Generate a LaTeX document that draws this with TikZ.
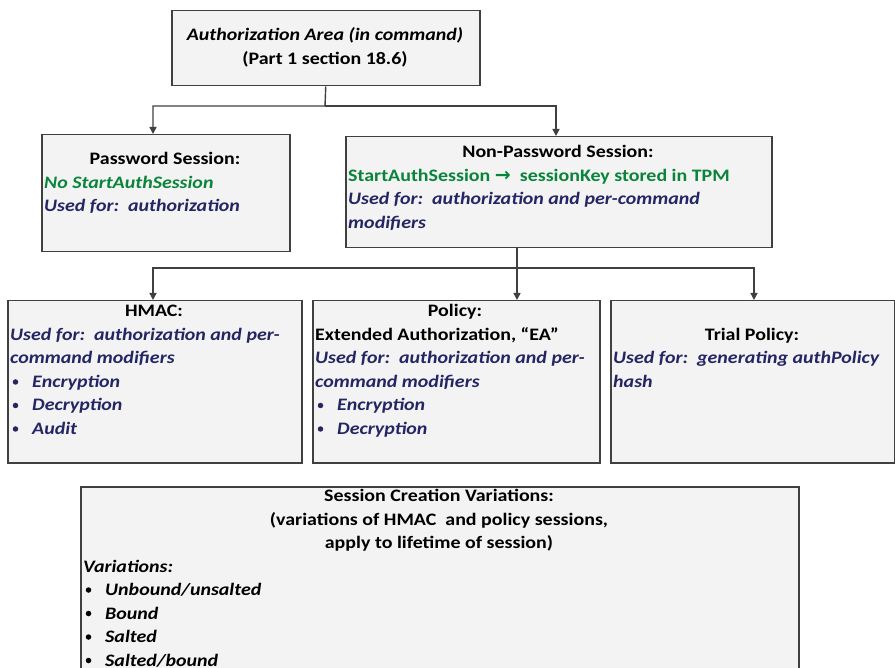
\documentclass[tikz,border=0pt]{standalone}
\usepackage{fontspec}
\setmainfont{Carlito}[FakeStretch=1.14]
\newfontfamily\arrowfont{DejaVu Sans}
\usetikzlibrary{arrows.meta}
\definecolor{boxfill}{RGB}{243,243,243}
\definecolor{boxline}{RGB}{64,64,64}
\definecolor{tgreen}{RGB}{10,132,58}
\definecolor{tnavy}{RGB}{36,38,100}
\begin{document}
\begin{tikzpicture}[x=1pt,y=-1pt,
  box/.style={draw=boxline, line width=1.5pt, fill=boxfill, inner sep=0pt, anchor=north west},
  conn/.style={draw=boxline, line width=1.4pt},
  arr/.style={conn, -{Triangle[length=7pt,width=7pt]}},
  txt/.style={inner sep=0pt, font=\fontsize{17.5}{21}\selectfont\bfseries},
  lt/.style={txt, anchor=base west},
  ct/.style={txt, anchor=base},
  nv/.style={text=tnavy, font=\fontsize{17.5}{21}\selectfont\bfseries\itshape},
  gr/.style={text=tgreen},
  bk/.style={text=black, font=\fontsize{17.5}{21}\selectfont\bfseries\itshape},
  dot/.style={circle, inner sep=0pt, minimum size=5.5pt}]
\useasboundingbox (0,0) rectangle (895,668);

% boxes
\node[box, minimum width=308pt, minimum height=75pt] (top) at (171,10) {};
\node[box, minimum width=248pt, minimum height=117pt] (pw) at (41,134) {};
\node[box, minimum width=426pt, minimum height=111pt] (np) at (345,136) {};
\node[box, minimum width=294pt, minimum height=162pt] (hm) at (7,300) {};
\node[box, minimum width=287pt, minimum height=162pt] (po) at (312,300) {};
\node[box, minimum width=284pt, minimum height=162pt] (tr) at (610,300) {};
\node[box, minimum width=718pt, minimum height=200pt] (sc) at (80,486) {};

% connectors
\coordinate (j1) at (325,106);
\coordinate (pwin) at (153,134);
\coordinate (npin) at (556,136);
\draw[arr] (top.south) -- (j1) -| (pwin);
\draw[arr] (j1) -| (npin);
\coordinate (npout) at (517,247);
\coordinate (j2) at (517,268);
\coordinate (hin) at (153,300);
\coordinate (pin) at (517,300);
\coordinate (tin) at (754,300);
\draw[conn] (npout) -- (j2);
\draw[arr] (j2) -| (hin);
\draw[arr] (j2) -- (pin);
\draw[arr] (j2) -| (tin);

% top box text
\node[ct, font=\fontsize{17.5}{21}\selectfont\bfseries\itshape] (t1) at (325,41) {Authorization Area (in command)};
\node[ct] (t2) at (325,65) {(Part 1 section 18.6)};

% password
\node[ct] (p1) at (165,165) {Password Session:};
\node[lt, gr, font=\fontsize{17.5}{21}\selectfont\bfseries\itshape] (p2) at (44,188.5) {No StartAuthSession};
\node[lt, nv] (p3) at (44,212) {Used for:\ \ authorization};

% non-password
\node[ct] (n1) at (558,158) {Non-Password Session:};
\node[lt, gr] (n2) at (348,181.5) {StartAuthSession {\arrowfont\fontsize{19}{19}\selectfont\bfseries →}\ \ sessionKey stored in TPM};
\node[lt, nv] (n3) at (348,205) {Used for:\ \ authorization and per-command};
\node[lt, nv] (n4) at (348,228.5) {modifiers};

% HMAC
\node[ct] (h1) at (154,317) {HMAC:};
\node[lt, nv] (h2) at (10,340.5) {Used for:\ \ authorization and per-};
\node[lt, nv] (h3) at (10,364) {command modifiers};
\node[dot, fill=tnavy] (hb1) at (15.5,382) {};
\node[lt, nv] (h4) at (32,387.5) {Encryption};
\node[dot, fill=tnavy] (hb2) at (15.5,405.5) {};
\node[lt, nv] (h5) at (32,411) {Decryption};
\node[dot, fill=tnavy] (hb3) at (15.5,429) {};
\node[lt, nv] (h6) at (32,434.5) {Audit};

% Policy
\node[ct] (o1) at (455,317) {Policy:};
\node[lt] (o2) at (315,340.5) {Extended Authorization, “EA”};
\node[lt, nv] (o3) at (315,364) {Used for:\ \ authorization and per-};
\node[lt, nv] (o4) at (315,387.5) {command modifiers};
\node[dot, fill=tnavy] (ob1) at (320.5,405.5) {};
\node[lt, nv] (o5) at (337,411) {Encryption};
\node[dot, fill=tnavy] (ob2) at (320.5,429) {};
\node[lt, nv] (o6) at (337,434.5) {Decryption};

% Trial
\node[ct] (r1) at (752,340.5) {Trial Policy:};
\node[lt, nv] (r2) at (613,364) {Used for:\ \ generating authPolicy};
\node[lt, nv] (r3) at (613,387.5) {hash};

% Session creation
\node[ct] (s1) at (439,501.5) {Session Creation Variations:};
\node[ct] (s2) at (439,525) {(variations of HMAC\ \ and policy sessions,};
\node[ct] (s3) at (439,548.5) {apply to lifetime of session)};
\node[lt, bk] (s4) at (83,572) {Variations:};
\node[dot, fill=black] (sb1) at (88.5,590) {};
\node[lt, bk] (s5) at (105,595.5) {Unbound/unsalted};
\node[dot, fill=black] (sb2) at (88.5,613.5) {};
\node[lt, bk] (s6) at (105,619) {Bound};
\node[dot, fill=black] (sb3) at (88.5,637) {};
\node[lt, bk] (s7) at (105,642.5) {Salted};
\node[dot, fill=black] (sb4) at (88.5,660.5) {};
\node[lt, bk] (s8) at (105,666) {Salted/bound};
\end{tikzpicture}
\end{document}
